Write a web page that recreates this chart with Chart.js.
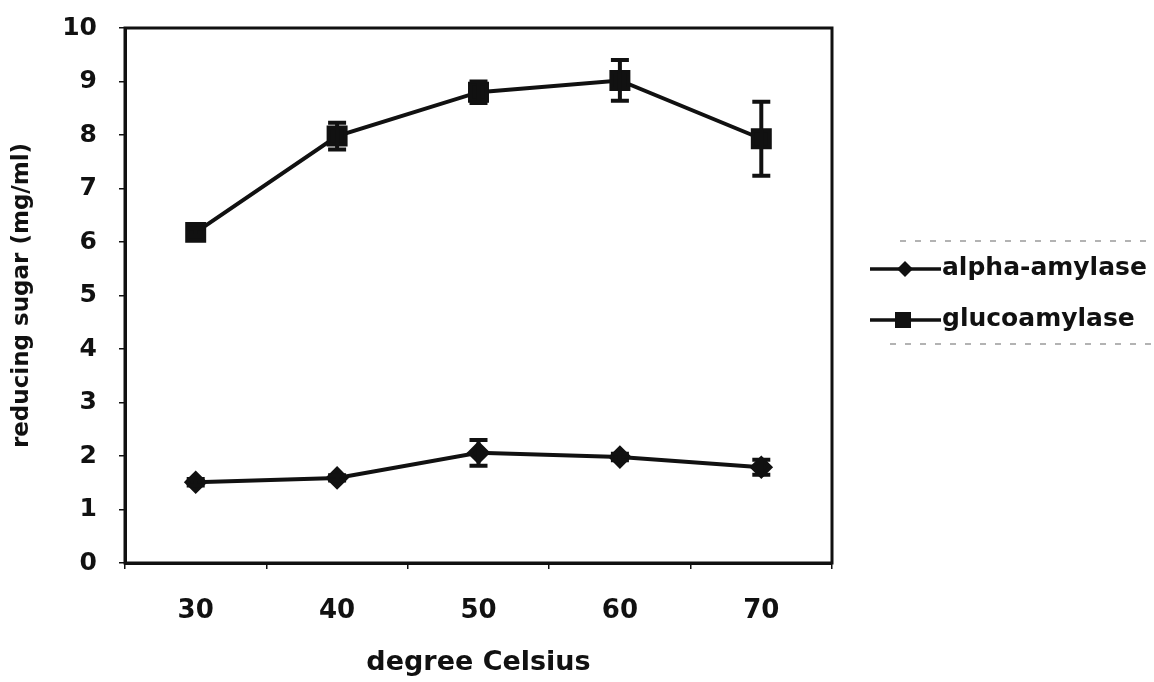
<!DOCTYPE html>
<html>
<head>
<meta charset="utf-8">
<script src="https://cdn.jsdelivr.net/npm/chart.js@4"></script>
<style>
  html, body { margin: 0; padding: 0; background: #ffffff; }
  #wrap { width: 1154px; height: 682px; position: relative; }
</style>
</head>
<body>
<div id="wrap"><canvas id="chart"></canvas></div>
<script>
const temps = ['30', '40', '50', '60', '70'];
const alphaAmylase = [1.51, 1.59, 2.06, 1.98, 1.79];
const alphaErr = [0.06, 0.05, 0.24, 0.06, 0.14];
const glucoAmylase = [6.18, 7.98, 8.80, 9.02, 7.93];
const glucoErr = [0.07, 0.25, 0.20, 0.38, 0.69];
const yTicks = [0, 1, 2, 3, 4, 5, 6, 7, 8, 9, 10];

const ink = '#111111';
const fontFam = '"DejaVu Sans", "Liberation Sans", sans-serif';

// error bars with caps
const errorBars = {
  id: 'errorBars',
  afterDatasetsDraw(chart) {
    const ctx = chart.ctx;
    const x = chart.scales.x, y = chart.scales.y;
    chart.data.datasets.forEach(ds => {
      ds.errors.forEach((e, i) => {
        const px = x.getPixelForValue(i);
        const top = y.getPixelForValue(ds.data[i] + e);
        const bot = y.getPixelForValue(ds.data[i] - e);
        ctx.save();
        ctx.strokeStyle = ink;
        ctx.lineWidth = 4;
        ctx.beginPath();
        ctx.moveTo(px, top); ctx.lineTo(px, bot);
        ctx.moveTo(px - 9, top); ctx.lineTo(px + 9, top);
        ctx.moveTo(px - 9, bot); ctx.lineTo(px + 9, bot);
        ctx.stroke();
        ctx.restore();
      });
    });
  }
};

// box round the plot and the legend on the right
const frameAndLegend = {
  id: 'frameAndLegend',
  afterDraw(chart) {
    const ctx = chart.ctx;
    const a = chart.chartArea;
    ctx.save();
    ctx.strokeStyle = ink;
    ctx.lineWidth = 3;
    ctx.strokeRect(a.left, a.top, a.right - a.left, a.bottom - a.top);

    // faded legend frame
    ctx.strokeStyle = '#9a9a9a';
    ctx.lineWidth = 1.5;
    ctx.setLineDash([6, 9]);
    ctx.beginPath();
    ctx.moveTo(900, 241); ctx.lineTo(1154, 241);
    ctx.moveTo(890, 344); ctx.lineTo(1154, 344);
    ctx.stroke();
    ctx.setLineDash([]);

    ctx.strokeStyle = ink;
    ctx.font = 'bold 25px ' + fontFam;
    ctx.textBaseline = 'middle';
    ctx.fillStyle = ink;
    chart.data.datasets.forEach((ds, i) => {
      const yy = 269 + i * 51;
      ctx.lineWidth = 3.5;
      ctx.beginPath();
      ctx.moveTo(870, yy); ctx.lineTo(941, yy);
      ctx.stroke();
      ctx.beginPath();
      if (ds.pointStyle === 'rectRot') {
        ctx.moveTo(905, yy - 8); ctx.lineTo(913, yy); ctx.lineTo(905, yy + 8); ctx.lineTo(897, yy);
      } else {
        ctx.rect(895, yy - 8, 16, 16);
      }
      ctx.closePath();
      ctx.fill();
      ctx.fillText(ds.label, 942, yy - 1);
    });
    ctx.restore();
  }
};

new Chart(document.getElementById('chart'), {
  type: 'line',
  data: {
    labels: temps,
    datasets: [
      {
        label: 'alpha-amylase',
        data: alphaAmylase,
        errors: alphaErr,
        borderColor: ink,
        backgroundColor: ink,
        borderWidth: 4,
        pointStyle: 'rectRot',
        pointRadius: 9,
        pointHoverRadius: 9,
        tension: 0
      },
      {
        label: 'glucoamylase',
        data: glucoAmylase,
        errors: glucoErr,
        borderColor: ink,
        backgroundColor: ink,
        borderWidth: 4,
        pointStyle: 'rect',
        pointRadius: 12,
        pointHoverRadius: 12,
        tension: 0
      }
    ]
  },
  options: {
    responsive: true,
    maintainAspectRatio: false,
    animation: false,
    layout: { padding: { top: 28, right: 322, left: 0, bottom: 0 } },
    plugins: {
      legend: { display: false },
      tooltip: { enabled: false }
    },
    scales: {
      x: {
        offset: true,
        grid: { drawOnChartArea: false, offset: true, color: ink, tickLength: 6, lineWidth: 1.5 },
        border: { color: ink, width: 3 },
        ticks: { color: ink, padding: 27, font: { family: fontFam, size: 26, weight: 'bold' } },
        title: { display: true, text: 'degree Celsius', color: ink, padding: { top: 0, bottom: 3 }, font: { family: fontFam, size: 27, weight: 'bold' } },
        afterFit: s => { s.height = 119; s.paddingLeft = 0; s.paddingRight = 0; }
      },
      y: {
        min: 0,
        max: 10,
        afterBuildTicks: s => { s.ticks = yTicks.map(v => ({ value: v })); },
        grid: { drawOnChartArea: false, color: ink, tickLength: 6, lineWidth: 1.5 },
        border: { color: ink, width: 3 },
        ticks: { color: ink, padding: 22, font: { family: fontFam, size: 25, weight: 'bold' } },
        title: { display: true, text: 'reducing sugar (mg/ml)', color: ink, padding: { top: 8, bottom: 0 }, font: { family: fontFam, size: 23, weight: 'bold' } },
        afterFit: s => { s.width = 125; s.paddingTop = 0; s.paddingBottom = 0; }
      }
    }
  },
  plugins: [errorBars, frameAndLegend]
});
</script>
</body>
</html>
